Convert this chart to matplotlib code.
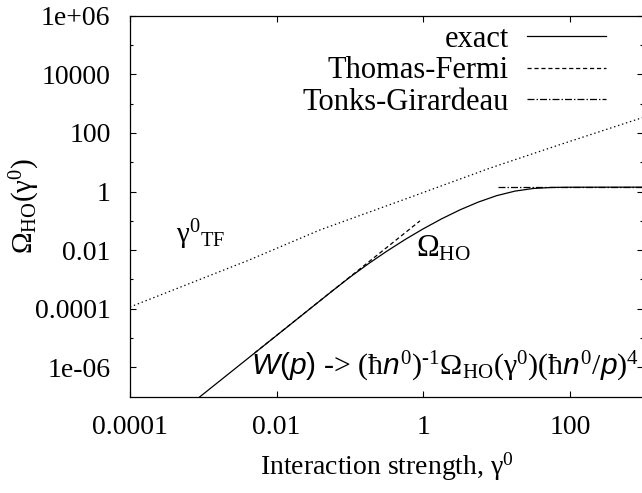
import numpy as np
import matplotlib
matplotlib.use('Agg')
import matplotlib.pyplot as plt
from matplotlib.ticker import FixedLocator, FuncFormatter, NullLocator, NullFormatter

############################################################
# Data
############################################################
gamma_exact = [5.0e-4, 9.0e-4, 1.0e-2, 5.62e-2, 0.1, 0.178, 0.316, 0.562,
               1.0, 1.78, 3.16, 5.62, 10.0, 17.8, 31.6, 56.2, 100.0, 316.0,
               1000.0]
omega_exact = [3.09e-8, 1.0e-7, 1.23e-5, 3.89e-4, 1.20e-3, 3.43e-3, 9.12e-3,
               0.0229, 0.0537, 0.1175, 0.237, 0.437, 0.724, 1.035, 1.274,
               1.380, 1.403, 1.409, 1.413]

gamma_tf = [5.0e-3, 0.05, 0.2, 0.9]
omega_tf = [3.1e-6, 3.1e-4, 4.9e-3, 0.0997]

gamma_tg = [10.5, 1000.0]
omega_tg = [1.42, 1.42]

# gamma_TF curve (dotted, no key entry)
gamma_g = [1e-4, 4.3e-3, 3.9e-2, 0.53, 8.1, 71.0, 1000.0]
omega_g = [1.15e-4, 4.7e-3, 4.9e-2, 0.52, 6.3, 39.0, 340.0]

xticks = [1e-4, 1e-2, 1, 100]
yticks = [1e-6, 1e-4, 1e-2, 1, 100, 1e4, 1e6]
yminor = [1e-5, 1e-3, 1e-1, 10, 1e3, 1e5]

############################################################
# Style
############################################################
plt.rcParams['font.family'] = ['Liberation Serif', 'DejaVu Serif']
plt.rcParams['mathtext.fontset'] = 'custom'
plt.rcParams['mathtext.rm'] = 'Liberation Serif'
plt.rcParams['mathtext.it'] = 'Liberation Sans:italic'
plt.rcParams['mathtext.sf'] = 'Liberation Sans'
plt.rcParams['mathtext.default'] = 'rm'
plt.rcParams['lines.scale_dashes'] = False
fs = 20

fig = plt.figure(figsize=(6.42, 4.93), dpi=100)
ax = fig.add_axes([130/642, 96.3/493, 513.3/642, 381/493])

lw = 0.9
ax.plot(gamma_exact, omega_exact, color='black', lw=lw, label='exact')
ax.plot(gamma_tf, omega_tf, color='black', lw=lw, dashes=(3, 2),
        label='Thomas-Fermi')
ax.plot(gamma_tg, omega_tg, color='black', lw=lw, dashes=(5, 1.5, 1, 1.5),
        label='Tonks-Girardeau')
ax.plot(gamma_g, omega_g, color='black', lw=lw, dashes=(1, 2))

ax.set_xscale('log')
ax.set_yscale('log')
ax.set_xlim(1e-4, 1e3)
ax.set_ylim(1e-7, 1e6)

ax.xaxis.set_major_locator(FixedLocator(xticks))
ax.xaxis.set_minor_locator(NullLocator())
ax.yaxis.set_major_locator(FixedLocator(yticks))
ax.yaxis.set_minor_locator(FixedLocator(yminor))
ax.yaxis.set_minor_formatter(NullFormatter())
fmt = FuncFormatter(lambda v, p: '%g' % v)
ax.xaxis.set_major_formatter(fmt)
ax.yaxis.set_major_formatter(fmt)
ax.tick_params(which='both', direction='in', top=True, right=True,
               labelsize=fs, width=0.8)
ax.tick_params(axis='x', which='major', length=4.5, pad=13)
ax.tick_params(axis='y', which='major', length=4.5, pad=14)
ax.tick_params(axis='y', which='minor', length=2.5)
for s in ax.spines.values():
    s.set_linewidth(0.9)

ax.set_xlabel(r'Interaction strength, $\gamma^0$', fontsize=fs, labelpad=8)
ax.set_ylabel(r'$\Omega_{HO}(\gamma^0)$', fontsize=fs + 1)
ax.yaxis.set_label_coords(-0.172, 0.5)

ax.legend(loc='upper right', bbox_to_anchor=(0.934, 0.984), frameon=False,
          markerfirst=False, fontsize=22, handlelength=2.6,
          handletextpad=0.6, labelspacing=0.08, borderpad=0.1,
          borderaxespad=0)

ax.text(4.24e-4, 0.0178, r'$\gamma^0{}_{TF}$', fontsize=21, va='baseline')
ax.text(0.79, 5.9e-3, r'$\Omega_{HO}$', fontsize=22, va='baseline')
ax.text(4.47e-3, 5.6e-7,
        r'$\mathit{W}\mathsf{(}\mathit{p}\mathsf{)}\text{ -> (ħ}\mathit{n}^0'
        r'\text{)}^{\text{-1}}\Omega_{HO}(\gamma^0)\text{(ħ}\mathit{n}^0'
        r'/\mathit{p}\text{)}^4$',
        fontsize=21.5, va='baseline')

fig.savefig('out.png', dpi=100)
